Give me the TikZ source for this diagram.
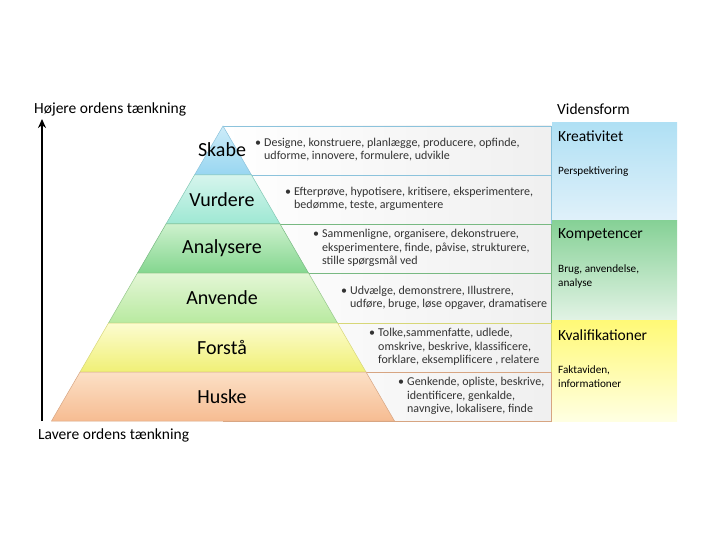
\documentclass[tikz,border=0pt]{standalone}
\usepackage{fontspec}
\setmainfont{Carlito}
\usetikzlibrary{arrows.meta}

% farver til trinene
\definecolor{skabeT}{RGB}{205,236,249}
\definecolor{skabeB}{RGB}{152,214,241}
\definecolor{skabeL}{RGB}{140,195,220}
\definecolor{vurdT}{RGB}{214,245,237}
\definecolor{vurdB}{RGB}{158,232,211}
\definecolor{vurdL}{RGB}{130,200,180}
\definecolor{analT}{RGB}{205,241,205}
\definecolor{analB}{RGB}{132,214,143}
\definecolor{analL}{RGB}{120,185,130}
\definecolor{anvT}{RGB}{228,246,214}
\definecolor{anvB}{RGB}{184,234,160}
\definecolor{anvL}{RGB}{150,200,140}
\definecolor{forT}{RGB}{252,252,208}
\definecolor{forB}{RGB}{240,240,118}
\definecolor{forL}{RGB}{215,215,120}
\definecolor{husT}{RGB}{252,224,198}
\definecolor{husB}{RGB}{246,188,146}
\definecolor{husL}{RGB}{215,165,130}

\begin{document}
\begin{tikzpicture}[x=1pt,y=-1pt]
\tikzset{
	lvl/.style={font=\fontsize{20}{24}\selectfont, inner sep=0pt},
	verb/.style={anchor=west, inner sep=0pt, text=black!80, font=\fontsize{12}{13.3}\selectfont},
	head/.style={anchor=west, inner sep=0pt, font=\fontsize{15.5}{18}\selectfont},
	small/.style={anchor=north west, inner sep=0pt, align=left, font=\fontsize{11.2}{13.8}\selectfont},
	row/.style={left color=white, right color=black!6, line width=.6pt}
}
\useasboundingbox (0,0) rectangle (720,540);

% raekker bag pyramiden
\shadedraw[row, draw=skabeL] (223,126) rectangle (551,175);
\shadedraw[row, draw=skabeL] (223,175) rectangle (551,224);
\shadedraw[row, draw=analL] (223,224) rectangle (551,273);
\shadedraw[row, draw=analL] (223,273) rectangle (551,323);
\shadedraw[row, draw=forL] (223,323) rectangle (551,372);
\shadedraw[row, draw=husL] (223,372) rectangle (551,421);

% pyramiden
\shadedraw[top color=skabeT, bottom color=skabeB, draw=skabeL, line width=.5pt] (223,126) -- (251.5,175) -- (194.5,175) -- cycle;
\shadedraw[top color=vurdT, bottom color=vurdB, draw=vurdL, line width=.5pt] (194.5,175) -- (251.5,175) -- (280,224) -- (166,224) -- cycle;
\shadedraw[top color=analT, bottom color=analB, draw=analL, line width=.5pt] (166,224) -- (280,224) -- (308.5,273) -- (137.5,273) -- cycle;
\shadedraw[top color=anvT, bottom color=anvB, draw=anvL, line width=.5pt] (137.5,273) -- (308.5,273) -- (337.5,323) -- (108.5,323) -- cycle;
\shadedraw[top color=forT, bottom color=forB, draw=forL, line width=.5pt] (108.5,323) -- (337.5,323) -- (366,372) -- (80,372) -- cycle;
\shadedraw[top color=husT, bottom color=husB, draw=husL, line width=.5pt] (80,372) -- (366,372) -- (394.5,421) -- (51.5,421) -- cycle;

% trin
\node[lvl] (skabe) at (222,150) {Skabe};
\node[lvl] (vurdere) at (222,199.5) {Vurdere};
\node[lvl] (analysere) at (222,248.5) {Analysere};
\node[lvl] (anvende) at (222,298) {Anvende};
\node[lvl] (forstaa) at (222,347.5) {Forstå};
\node[lvl] (huske) at (222,396.5) {Huske};

% verber
\node[verb] (v_skabe) at (255,150) {\begin{tabular}{@{}l@{\hspace{3pt}}l@{}}\textbullet & Designe, konstruere, planlægge, producere, opfinde,\\ & udforme, innovere, formulere, udvikle\end{tabular}};
\node[verb] (v_vurdere) at (285,199.5) {\begin{tabular}{@{}l@{\hspace{3pt}}l@{}}\textbullet & Efterprøve, hypotisere, kritisere, eksperimentere,\\ & bedømme, teste, argumentere\end{tabular}};
\node[verb] (v_analysere) at (313,248.5) {\begin{tabular}{@{}l@{\hspace{3pt}}l@{}}\textbullet & Sammenligne, organisere, dekonstruere,\\ & eksperimentere, finde, påvise, strukturere,\\ & stille spørgsmål ved\end{tabular}};
\node[verb] (v_anvende) at (341,298) {\begin{tabular}{@{}l@{\hspace{3pt}}l@{}}\textbullet & Udvælge, demonstrere, Illustrere,\\ & udføre, bruge, løse opgaver, dramatisere\end{tabular}};
\node[verb] (v_forstaa) at (369,347.5) {\begin{tabular}{@{}l@{\hspace{3pt}}l@{}}\textbullet & Tolke,sammenfatte, udlede,\\ & omskrive, beskrive, klassificere,\\ & forklare, eksemplificere , relatere\end{tabular}};
\node[verb] (v_huske) at (398,396.5) {\begin{tabular}{@{}l@{\hspace{3pt}}l@{}}\textbullet & Genkende, opliste, beskrive,\\ & identificere, genkalde,\\ & navngive, lokalisere, finde\end{tabular}};

% vidensform
\shade[top color={rgb,255:red,176;green,224;blue,244}, bottom color={rgb,255:red,224;green,241;blue,250}] (552,123) rectangle (677,221);
\shade[top color={rgb,255:red,134;green,209;blue,150}, bottom color={rgb,255:red,226;green,243;blue,229}] (552,221) rectangle (677,320);
\shade[top color={rgb,255:red,255;green,249;blue,118}, bottom color={rgb,255:red,255;green,255;blue,226}] (552,320) rectangle (677,421);

\node[head] (kreativitet) at (558,136.5) {Kreativitet};
\node[small] (perspektiv) at (558,167) {Perspektivering};
\node[head] (kompetencer) at (558,235) {Kompetencer};
\node[small] (brug) at (558,265) {Brug, anvendelse,\\analyse};
\node[head] (kvalifikationer) at (558,335) {Kvalifikationer};
\node[small] (fakta) at (558,366) {Faktaviden,\\informationer};

% akse
\node[head] (vidensform) at (557,109) {Vidensform};
\node[head] (hoejere) at (34,109) {Højere ordens tænkning};
\node[head] (lavere) at (38,435) {Lavere ordens tænkning};
\coordinate (lav) at (42,421);
\coordinate (hoej) at (42,119);
\draw[-{Stealth[length=9pt,width=8pt]}, line width=1.8pt] (lav) -- (hoej);

\end{tikzpicture}
\end{document}
